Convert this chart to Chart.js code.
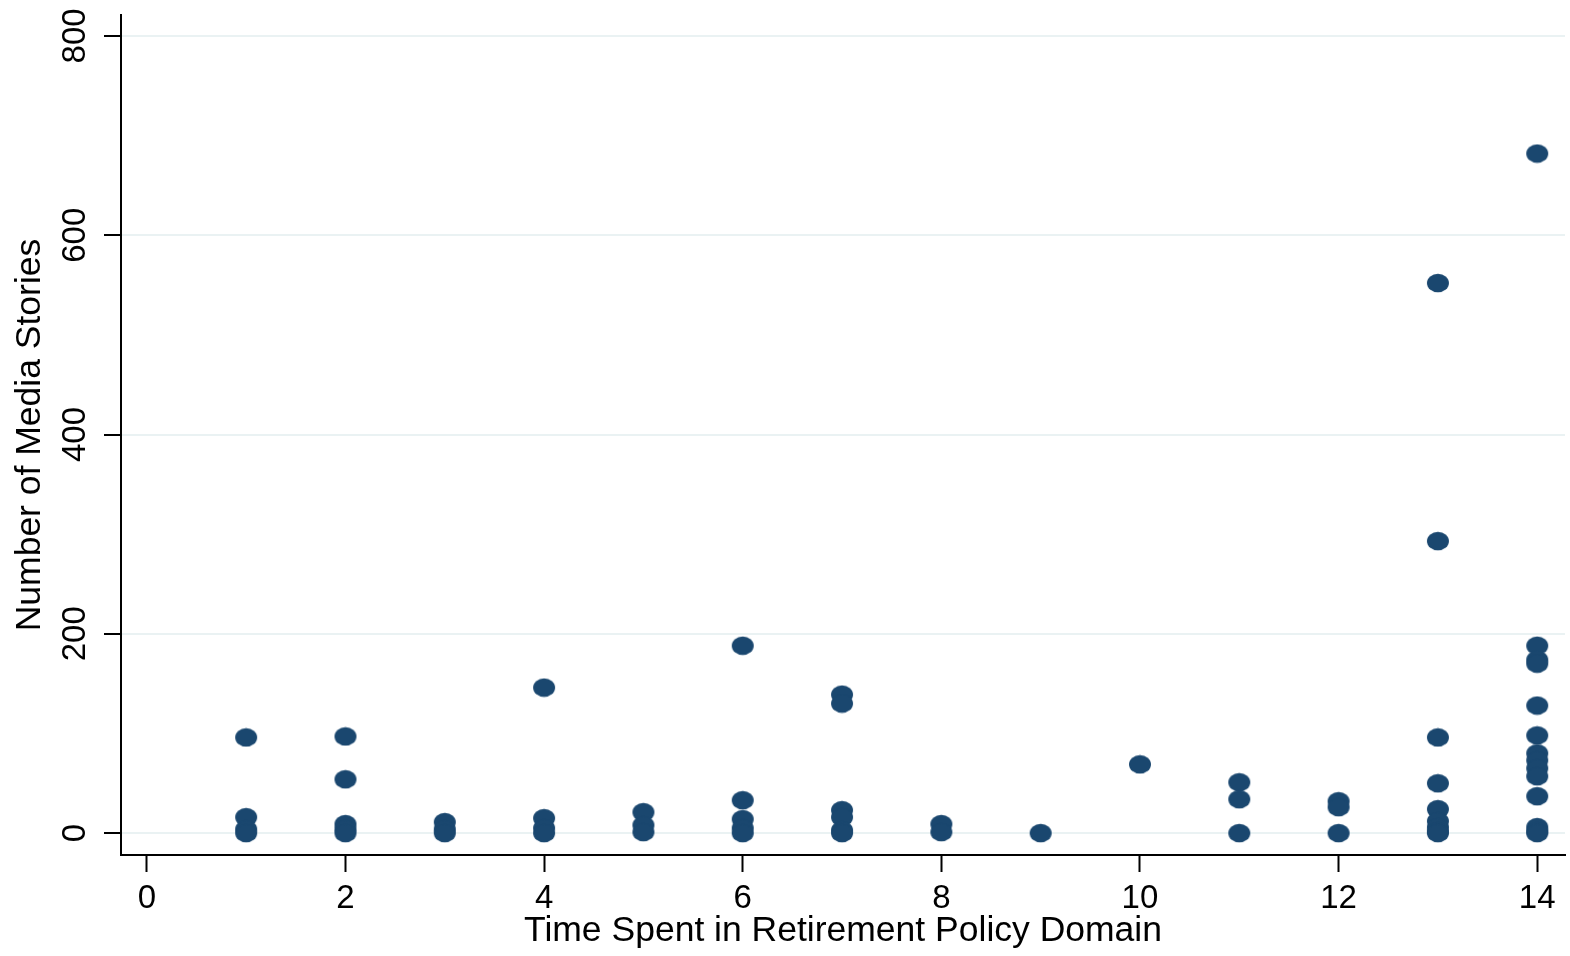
<!DOCTYPE html>
<html>
<head>
<meta charset="utf-8">
<script src="https://cdn.jsdelivr.net/npm/chart.js@4"></script>
<style>
  html, body { margin: 0; padding: 0; background: #fff; }
  #wrap { width: 1570px; height: 956px; }
</style>
</head>
<body>
<div id="wrap"><canvas id="chart" width="1570" height="956"></canvas></div>
<script>
// years spent in the policy domain vs number of media stories
const timeSpent = [
  1, 1, 1, 1,
  2, 2, 2, 2, 2,
  3, 3, 3,
  4, 4, 4, 4,
  5, 5, 5,
  6, 6, 6, 6, 6,
  7, 7, 7, 7, 7, 7,
  8, 8,
  9,
  10,
  11, 11, 11,
  12, 12, 12,
  13, 13, 13, 13, 13, 13, 13, 13, 13,
  14, 14, 14, 14, 14, 14, 14, 14, 14, 14, 14, 14, 14, 14
];
const stories = [
  96, 16, 4, 0,
  97, 54, 9, 4, 0,
  11, 4, 0,
  146, 15, 5, 0,
  21, 8, 1,
  188, 33, 14, 5, 0,
  139, 130, 23, 16, 3, 0,
  9, 1,
  0,
  69,
  51, 34, 0,
  32, 26, 0,
  552, 293, 96, 50, 24, 12, 6, 2, 0,
  682, 188, 174, 170, 128, 98, 80, 73, 65, 57, 37, 6, 2, 0
];
const xTicks = [0, 2, 4, 6, 8, 10, 12, 14];
const yTicks = [0, 200, 400, 600, 800];

const navy = "#1a476f";
const font = "'Liberation Sans', Arial, sans-serif";

// stata-like slightly flattened dot
const dot = document.createElement("canvas");
dot.width = 24;
dot.height = 20;
const dctx = dot.getContext("2d");
dctx.fillStyle = navy;
dctx.beginPath();
dctx.ellipse(12, 10, 11, 9.3, 0, 0, Math.PI * 2);
dctx.fill();

const points = timeSpent.map((x, i) => ({ x: x, y: stories[i] }));

new Chart(document.getElementById("chart").getContext("2d"), {
  type: "scatter",
  data: {
    datasets: [{
      data: points,
      pointStyle: dot,
      backgroundColor: navy,
      borderColor: navy
    }]
  },
  options: {
    responsive: false,
    animation: false,
    events: [],
    layout: { padding: { top: 15, right: 5, left: 0, bottom: 0 } },
    plugins: { legend: { display: false }, tooltip: { enabled: false } },
    scales: {
      x: {
        type: "linear",
        min: -0.26,
        max: 14.28,
        afterBuildTicks: s => { s.ticks = xTicks.map(v => ({ value: v })); },
        afterFit: s => { s.height = 101; s.paddingLeft = 0; s.paddingRight = 0; },
        grid: { drawOnChartArea: false, tickLength: 17, tickColor: "#000", tickWidth: 2 },
        border: { color: "#000", width: 2 },
        ticks: { color: "#000", font: { family: font, size: 33 }, padding: 7, maxRotation: 0 },
        title: {
          display: true,
          text: "Time Spent in Retirement Policy Domain",
          color: "#000",
          font: { family: font, size: 35.5 },
          padding: { top: 0, bottom: 3 }
        }
      },
      y: {
        type: "linear",
        min: -22,
        max: 821,
        afterBuildTicks: s => { s.ticks = yTicks.map(v => ({ value: v })); },
        afterFit: s => { s.width = 121; s.paddingTop = 0; s.paddingBottom = 0; },
        grid: { color: "#eaf2f3", lineWidth: 2, tickLength: 17, tickColor: "#000", tickWidth: 2 },
        border: { color: "#000", width: 2 },
        ticks: {
          color: "#000",
          font: { family: font, size: 33 },
          padding: 1,
          minRotation: 90,
          maxRotation: 90,
          crossAlign: "center"
        },
        title: {
          display: true,
          text: "Number of Media Stories",
          color: "#000",
          font: { family: font, size: 35.5 },
          padding: { top: 9, bottom: 0 }
        }
      }
    }
  }
});
</script>
</body>
</html>
